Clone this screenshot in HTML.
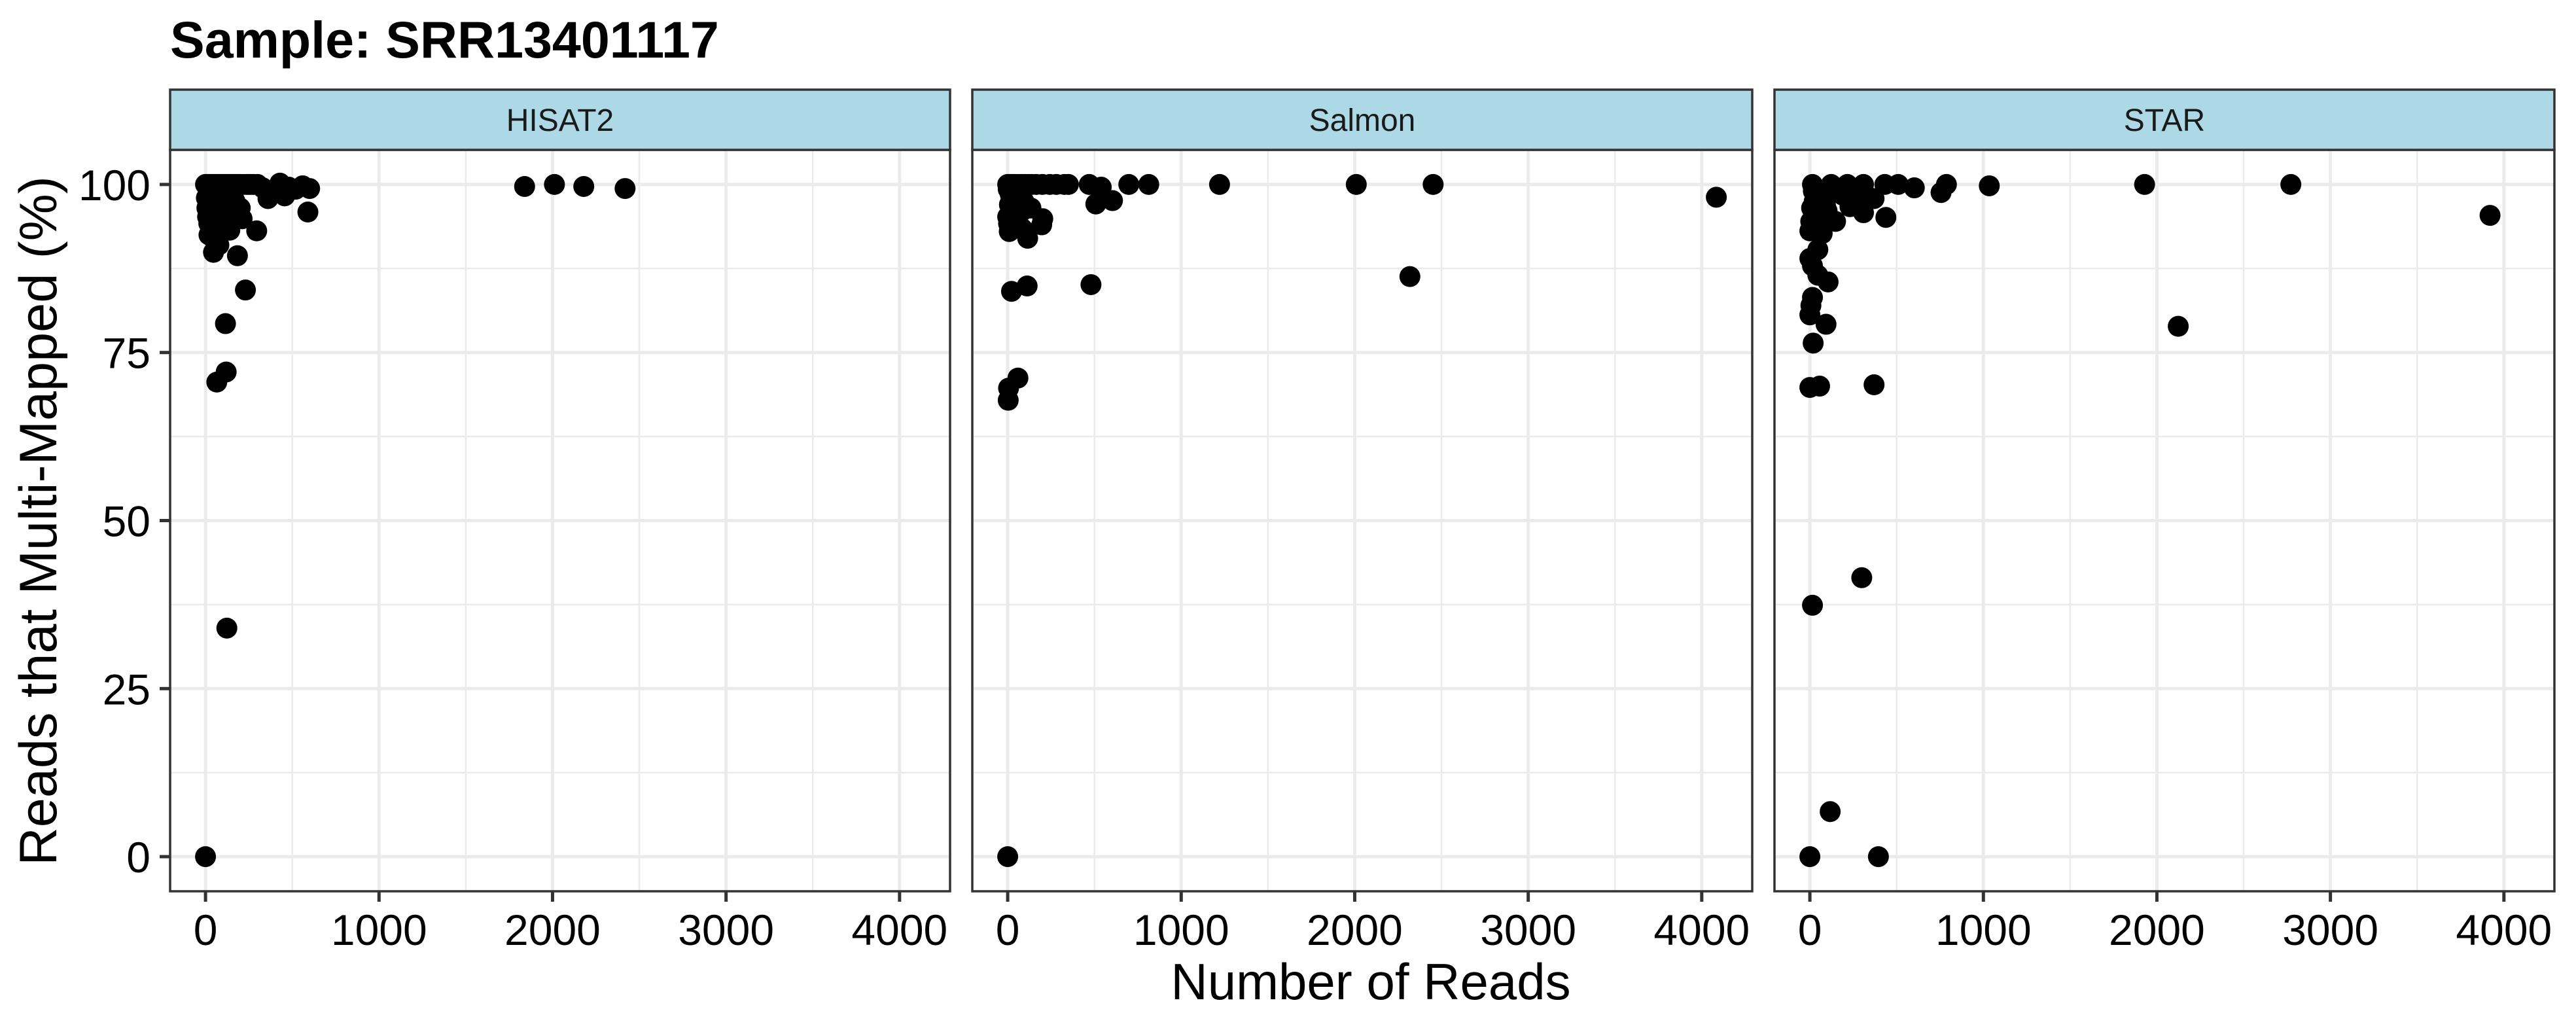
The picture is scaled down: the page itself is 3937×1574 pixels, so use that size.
<!DOCTYPE html>
<html><head><meta charset="utf-8"><style>
html,body{margin:0;padding:0;background:#fff;}
svg{display:block;font-family:"Liberation Sans",Arial,sans-serif;}
</style></head><body>
<svg id="chart" width="3937" height="1574" viewBox="0 0 3937 1574" xmlns="http://www.w3.org/2000/svg">
<rect x="0" y="0" width="3937" height="1574" fill="#fff"/>
<text x="260" y="88" font-size="79" font-weight="bold" fill="#000">Sample: SRR13401117</text>
<text transform="translate(86,796) rotate(-90)" text-anchor="middle" font-size="81" fill="#000">Reads that Multi-Mapped (%)</text>
<text x="2095" y="1527" text-anchor="middle" font-size="78" fill="#000">Number of Reads</text>
<g id="panels"></g>
</svg>
<script>
const facets = ["HISAT2", "Salmon", "STAR"];
const xTicks = [0, 1000, 2000, 3000, 4000];
const xMinor = [500, 1500, 2500, 3500];
const yTicks = [0, 25, 50, 75, 100];
const yMinor = [12.5, 37.5, 62.5, 87.5];

const hisatX = [0,123,115,119,65,230,184,46,77,295,590,600,560,456,360,429,276,211,19,12,1839,2011,2180,2418,
  0,10,20,30,40,50,60,70,80,90,100,110,120,130,140,150,160,170,180,190,200,220,240,260,300,330,400,480,520,
  5,15,25,35,45,55,70,85,100,130,150,170,200,8,18,28,40,60,90,120,150,30,50,75,110,140,20,45,65,35,55,95];
const hisatY = [0,34,79.3,72.1,70.6,84.3,89.4,89.9,91,93.1,95.9,99.4,99.8,98.3,97.9,100.2,100,94.9,94.2,95.2,99.7,100,99.7,99.4,
  100,100,100,100,100,100,100,100,100,100,100,100,100,100,100,100,100,100,100,100,100,100,100,100,100,99.5,99.2,99.6,99.3,
  98,98.5,97.8,98.2,97.5,98.1,97.9,98.4,97.6,97.2,96.8,97.5,96.5,96.5,96,95.8,96.2,95.5,95.9,94.8,95.6,94,93.5,93.8,94.2,93.2,92.5,92,91.8,97,96.4,95.1];

const salmonX = [0,3,5,59,22,112,480,2318,4084,2452,2009,1221,813,698,508,604,470,539,327,243,165,115,196,202,9,0,134,72,40,3,
  0,10,20,30,45,60,80,100,120,140,200,280,350,15,35,55,75,95,10,25,50,70,90,20,40,60,5,30,65,85];
const salmonY = [0,67.9,69.7,71.2,84.1,84.9,85.1,86.3,98.1,100,100,100,100,100,97.1,97.6,100,99.6,100,100,100,92,94,94.9,93,95.2,96.5,97.9,95.6,99.3,
  100,100,100,100,100,100,100,100,100,100,100,100,100,98.5,98.2,97.8,98,97.4,97,96.8,96.6,96.9,96.2,95,94.6,95.3,94.2,93.5,94,93.4];

const starX = [0,395,117,15,299,0,56,370,19,2123,93,0,6,15,105,46,15,0,46,71,0,148,438,3920,31,99,309,231,370,756,787,1034,1929,2772,602,509,432,309,216,123,15,
  20,40,60,80,100,130,160,190,250,280,340,25,50,70,90,10,35,55,75,5,30,65];
const starY = [0,0,6.7,37.4,41.5,69.8,70,70.2,76.4,78.9,79.2,80.6,82,83.2,85.5,86.5,87.9,89,90.3,92.7,93.1,94.5,95.1,95.4,95.2,96.1,95.8,96.7,97.9,98.8,100,99.8,100,100,99.5,100,100,100,100,100,100,
  99,98.5,98.8,99.2,98.6,98.9,99.1,98.4,97.6,97.2,98.1,97.5,97,96.6,96.9,96.5,95.8,95.3,95.6,94.5,94,93.6];

const seriesX = [hisatX, salmonX, starX];
const seriesY = [hisatY, salmonY, starY];

const NS = "http://www.w3.org/2000/svg";
const panelLefts = [260, 1486, 2712];
const panelW = 1192, stripTop = 137, stripBot = 229, plotTop = 229, plotBot = 1362;
const xMin = -204, xMax = 4291, yMin = -5.15, yMax = 105.15;
function mk(tag, attrs){const e=document.createElementNS(NS,tag);for(const k in attrs)e.setAttribute(k,attrs[k]);return e;}
const root = document.getElementById("panels");

facets.forEach((name, p) => {
  const L = panelLefts[p];
  const sx = v => L + (v - xMin) / (xMax - xMin) * panelW;
  const sy = v => plotBot - (v - yMin) / (yMax - yMin) * (plotBot - plotTop);
  const g = mk("g", {});
  
  
  root.appendChild(g);
  const bg = mk("rect", {x:L, y:plotTop, width:panelW, height:plotBot-plotTop, fill:"#fff"});
  
  
  g.appendChild(bg);
  yMinor.forEach(v => {
    const l = mk("line", {x1:L, x2:L+panelW, y1:sy(v), y2:sy(v), stroke:"#ebebeb", "stroke-width":2.5});
    
    
    g.appendChild(l);
  });
  xMinor.forEach(v => {
    const l = mk("line", {x1:sx(v), x2:sx(v), y1:plotTop, y2:plotBot, stroke:"#ebebeb", "stroke-width":2.5});
    
    
    g.appendChild(l);
  });
  yTicks.forEach(v => {
    const l = mk("line", {x1:L, x2:L+panelW, y1:sy(v), y2:sy(v), stroke:"#ebebeb", "stroke-width":5});
    
    
    g.appendChild(l);
  });
  xTicks.forEach(v => {
    const l = mk("line", {x1:sx(v), x2:sx(v), y1:plotTop, y2:plotBot, stroke:"#ebebeb", "stroke-width":5});
    
    
    g.appendChild(l);
    const t = mk("line", {x1:sx(v), x2:sx(v), y1:plotBot, y2:plotBot+16, stroke:"#333", "stroke-width":5});
    
    
    g.appendChild(t);
    const tx = mk("text", {x:sx(v), y:1444, "text-anchor":"middle", "font-size":66, fill:"#000"});
    tx.textContent = String(v);
    
    
    g.appendChild(tx);
  });
  if (p === 0) {
    yTicks.forEach(v => {
      const t = mk("line", {x1:L-16, x2:L, y1:sy(v), y2:sy(v), stroke:"#333", "stroke-width":5});
      
      
      g.appendChild(t);
      const tx = mk("text", {x:L-30, y:sy(v)+24, "text-anchor":"end", "font-size":66, fill:"#000"});
      tx.textContent = String(v);
      
      
      g.appendChild(tx);
    });
  }
  seriesX[p].forEach((xv, i) => {
    const c = mk("circle", {cx:sx(xv), cy:sy(seriesY[p][i]), r:16, fill:"#000"});
    
    
    g.appendChild(c);
  });
  const border = mk("rect", {x:L, y:plotTop, width:panelW, height:plotBot-plotTop, fill:"none", stroke:"#333", "stroke-width":3.5});
  
  
  g.appendChild(border);
  const strip = mk("rect", {x:L, y:stripTop, width:panelW, height:stripBot-stripTop, fill:"#add8e6", stroke:"#333", "stroke-width":3.5});
  
  
  g.appendChild(strip);
  const st = mk("text", {x:L+panelW/2, y:(stripTop+stripBot)/2+17, "text-anchor":"middle", "font-size":48, fill:"#1a1a1a"});
  st.textContent = name;
  
  
  g.appendChild(st);
});
</script>
</body></html>
